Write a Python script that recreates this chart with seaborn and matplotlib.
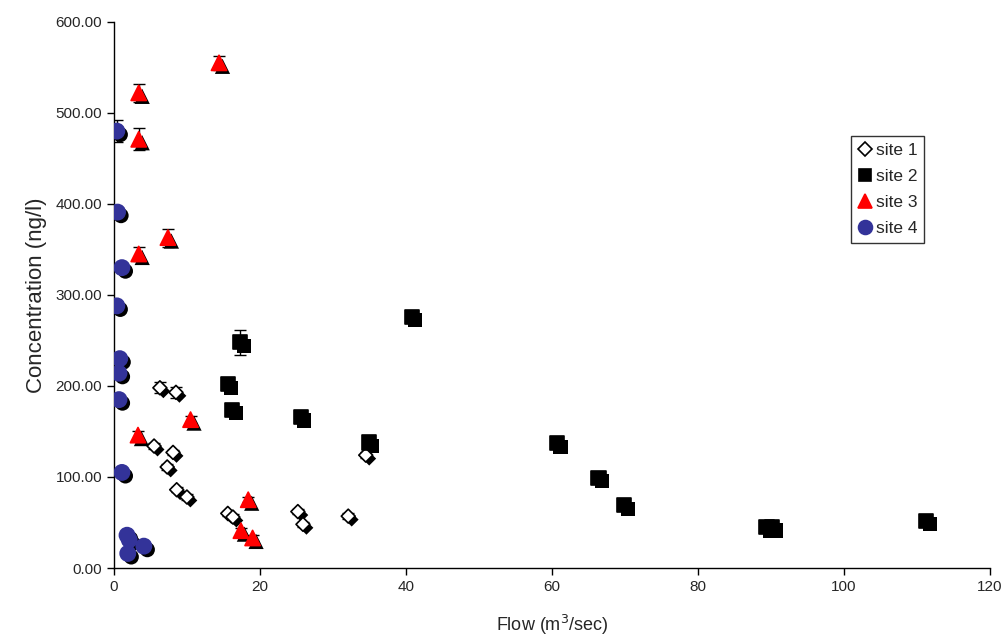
import pandas as pd
import matplotlib.pyplot as plt
import matplotlib.patheffects as pe
import seaborn as sns

# Flow (m3/sec) vs concentration (ng/l) at four sites
site1_flow = [6.3, 8.5, 5.5, 8.1, 7.3, 8.6, 10.0, 15.6, 16.3, 25.2, 25.9, 32.1, 34.5]
site1_conc = [198, 193, 134, 127, 111, 86, 78, 60, 56, 62, 48, 57, 124]
site1_err = [6, 6, 3, 3, 3, 3, 3, 3, 3, 3, 3, 3, 3]

site2_flow = [17.3, 15.6, 16.2, 25.6, 34.9, 40.8, 60.7, 66.4, 69.9, 89.4, 90.2, 111.3]
site2_conc = [248, 202, 174, 166, 138, 276, 137, 99, 69, 45, 45, 52]
site2_err = [14, 4, 4, 4, 4, 4, 4, 4, 4, 3, 3, 3]

site3_flow = [14.4, 3.4, 3.4, 7.4, 3.4, 3.3, 10.5, 18.4, 17.4, 19.0]
site3_conc = [555, 522, 471, 363, 345, 146, 163, 75, 41, 33]
site3_err = [8, 10, 12, 10, 8, 4, 4, 3, 3, 3]

site4_flow = [0.4, 0.5, 1.1, 0.4, 0.8, 0.7, 0.7, 1.1, 1.8, 2.1, 1.9, 4.1]
site4_conc = [480, 391, 330, 288, 230, 214, 185, 105, 36, 31, 16, 24]
site4_err = [12, 3, 5, 3, 3, 3, 4, 3, 2, 2, 2, 2]

sites = ["site 1", "site 2", "site 3", "site 4"]
colors = {"site 1": "white", "site 2": "black", "site 3": "#ff0000", "site 4": "#333399"}
edges = {"site 1": "black", "site 2": "black", "site 3": "#ff0000", "site 4": "#333399"}
markers = {"site 1": "D", "site 2": "s", "site 3": "^", "site 4": "o"}
sizes = {"site 1": 50, "site 2": 105, "site 3": 120, "site 4": 120}

frames = []
for name, fl, co, er in zip(sites,
                            [site1_flow, site2_flow, site3_flow, site4_flow],
                            [site1_conc, site2_conc, site3_conc, site4_conc],
                            [site1_err, site2_err, site3_err, site4_err]):
    frames.append(pd.DataFrame({"flow": fl, "conc": co, "err": er, "site": name}))
df = pd.concat(frames, ignore_index=True)

sns.set_style("white")
plt.rcParams["font.family"] = ["Liberation Sans", "DejaVu Sans"]

fig = plt.figure(figsize=(10.08, 6.44), dpi=100)
ax = fig.add_axes([0.113, 0.118, 0.869, 0.848])

# error bars behind the markers
ax.errorbar(df["flow"], df["conc"], yerr=df["err"], fmt="none",
            ecolor="black", elinewidth=1, capsize=4, capthick=1, zorder=1)

sns.scatterplot(data=df, x="flow", y="conc", hue="site", style="site", size="site",
                palette=colors, markers=markers, sizes=sizes, edgecolor="black",
                linewidth=1.2, ax=ax, zorder=3)
pts = ax.collections[-1]
pts.set_edgecolors(df["site"].map(edges).tolist())
# drop shadow like the original
pts.set_path_effects([
    pe.SimplePatchShadow(offset=(2.5, -2.5), shadow_rgbFace="black", alpha=1),
    pe.Normal()])

ax.set_xlim(0, 120)
ax.set_ylim(0, 600)
ax.set_xticks(range(0, 121, 20))
ax.set_yticks(range(0, 601, 100))
ax.yaxis.set_major_formatter(plt.FormatStrFormatter("%.2f"))
ax.tick_params(axis="both", direction="out", length=5, width=1, labelsize=11,
               color="black", left=True, bottom=True)
for side in ["top", "right"]:
    ax.spines[side].set_visible(False)
for side in ["left", "bottom"]:
    ax.spines[side].set_color("black")
    ax.spines[side].set_linewidth(1)

ax.set_xlabel("Flow (m$^3$/sec)", fontsize=13, labelpad=14)
ax.set_ylabel("Concentration (ng/l)", fontsize=16, labelpad=6)

sns.move_legend(ax, loc="upper left", bbox_to_anchor=(0.841, 0.791), title=None,
                frameon=True, fontsize=12.5, handletextpad=0.15, borderpad=0.4,
                labelspacing=0.62, handlelength=0.9, fancybox=False,
                edgecolor="black", borderaxespad=0)
leg = ax.get_legend()
leg.get_frame().set_linewidth(1)
for h, name, ms in zip(leg.legend_handles, sites, [7, 9, 9.5, 10]):
    h.set_markersize(ms)
    h.set_markeredgecolor(edges[name])

plt.savefig("out.png", dpi=100)
